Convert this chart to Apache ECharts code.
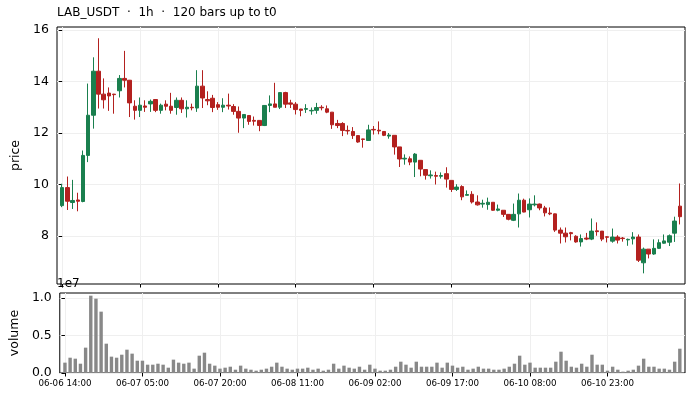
<!DOCTYPE html>
<html>
<head>
<meta charset="utf-8">
<script src="https://cdn.jsdelivr.net/npm/echarts@6/dist/echarts.min.js"></script>
<style>
  html, body { margin: 0; padding: 0; background: #fff; }
  #chart { width: 693px; height: 400px; }
</style>
</head>
<body>
<div id="chart"></div>
<script>
// hourly bars, index 0 = 06-06 14:00
var open = [
  9.18, 9.88, 9.30, 9.40, 9.34, 11.13, 12.69, 14.40, 13.51, 13.55,
  13.51, 13.64, 14.12, 14.05, 13.04, 12.88, 13.05, 13.13, 13.30, 12.88,
  13.12, 13.04, 12.99, 13.27, 12.94, 13.00, 12.97, 13.82, 13.30, 13.35,
  13.10, 13.00, 13.08, 13.03, 12.84, 12.58, 12.68, 12.49, 12.49, 12.29,
  13.07, 13.13, 13.00, 13.57, 13.17, 13.12, 12.93, 12.92, 12.86, 12.88,
  13.00, 12.94, 12.81, 12.37, 12.37, 12.10, 12.06, 11.90, 11.77, 11.71,
  12.14, 12.11, 12.06, 11.88, 11.91, 11.46, 10.99, 11.00, 10.87, 10.94,
  10.58, 10.34, 10.35, 10.32, 10.42, 10.16, 9.81, 9.92, 9.58, 9.62,
  9.32, 9.24, 9.22, 9.31, 9.00, 9.00, 8.84, 8.61, 8.86, 9.39,
  9.02, 9.21, 9.24, 9.09, 8.89, 8.86, 8.23, 8.11, 8.13, 7.99,
  7.77, 7.92, 7.88, 8.20, 8.19, 7.97, 7.80, 7.96, 7.92, 7.85,
  7.89, 7.96, 6.96, 7.49, 7.30, 7.52, 7.72, 7.76, 8.11, 9.16
];
var close = [
  9.88, 9.35, 9.38, 9.35, 11.13, 12.69, 14.40, 13.51, 13.29, 13.44,
  13.49, 14.12, 14.05, 13.17, 12.88, 13.08, 13.00, 13.23, 12.88, 13.08,
  13.04, 12.88, 13.27, 12.94, 13.00, 12.98, 13.82, 13.36, 13.25, 12.99,
  13.00, 13.08, 13.05, 12.84, 12.58, 12.72, 12.45, 12.46, 12.29, 13.07,
  13.13, 13.00, 13.57, 13.12, 13.12, 12.91, 12.88, 12.95, 12.88, 12.99,
  12.98, 12.81, 12.32, 12.29, 12.10, 12.08, 11.90, 11.65, 11.75, 12.12,
  12.12, 12.08, 11.91, 11.92, 11.46, 10.99, 11.02, 10.87, 11.18, 10.60,
  10.36, 10.37, 10.32, 10.35, 10.21, 9.81, 9.90, 9.52, 9.61, 9.32,
  9.21, 9.27, 9.31, 9.00, 9.05, 8.84, 8.65, 8.84, 9.39, 8.93,
  9.24, 9.24, 9.09, 8.90, 8.86, 8.23, 8.11, 7.97, 8.09, 7.77,
  7.90, 7.88, 8.19, 8.17, 7.88, 7.95, 7.96, 7.84, 7.90, 7.87,
  7.96, 7.06, 7.49, 7.30, 7.52, 7.74, 7.81, 8.01, 8.58, 8.75
];
var high = [
  10.03, 10.31, 10.18, 9.68, 11.32, 13.92, 14.94, 15.68, 14.12, 13.77,
  13.52, 14.25, 15.19, 14.06, 13.27, 13.38, 13.27, 13.30, 13.31, 13.14,
  13.27, 13.56, 13.38, 13.38, 13.27, 13.14, 14.44, 14.44, 13.62, 13.48,
  13.20, 13.35, 13.53, 13.12, 13.03, 12.72, 12.68, 12.64, 12.49, 13.07,
  13.46, 13.95, 13.57, 13.60, 13.29, 13.20, 12.94, 13.12, 12.99, 13.17,
  13.08, 13.07, 12.81, 12.51, 12.42, 12.29, 12.23, 11.90, 11.78, 12.32,
  12.27, 12.45, 12.06, 12.00, 11.91, 11.46, 11.17, 11.09, 11.22, 10.94,
  10.58, 10.55, 10.50, 10.47, 10.67, 10.16, 10.01, 9.97, 9.77, 9.74,
  9.58, 9.41, 9.49, 9.31, 9.22, 9.00, 8.84, 9.26, 9.65, 9.45,
  9.46, 9.58, 9.26, 9.17, 9.11, 8.87, 8.33, 8.33, 8.16, 8.03,
  8.06, 8.12, 8.68, 8.53, 8.19, 7.99, 8.29, 8.03, 7.96, 7.90,
  8.15, 8.06, 7.55, 7.49, 7.87, 7.87, 8.06, 8.06, 8.75, 10.04
];
var low = [
  9.12, 9.01, 9.05, 8.96, 9.31, 10.87, 12.17, 12.95, 12.95, 12.86,
  12.75, 13.38, 13.77, 12.62, 12.52, 12.62, 12.82, 12.82, 12.81, 12.75,
  12.88, 12.75, 12.71, 12.78, 12.60, 12.88, 12.82, 12.97, 13.08, 12.81,
  12.90, 12.81, 12.91, 12.71, 12.01, 12.19, 12.32, 12.29, 12.07, 12.27,
  12.81, 13.00, 12.93, 12.97, 12.97, 12.72, 12.65, 12.78, 12.71, 12.75,
  12.88, 12.77, 12.16, 12.19, 11.88, 11.94, 11.77, 11.62, 11.43, 11.71,
  11.94, 11.95, 11.88, 11.78, 11.16, 10.68, 10.77, 10.75, 10.29, 10.32,
  10.19, 10.23, 10.00, 10.23, 9.88, 9.71, 9.75, 9.39, 9.58, 9.26,
  9.18, 9.10, 9.02, 8.98, 8.96, 8.74, 8.61, 8.58, 8.33, 8.92,
  8.72, 9.15, 9.00, 8.76, 8.81, 8.16, 7.71, 7.75, 7.83, 7.74,
  7.59, 7.84, 7.84, 8.01, 7.80, 7.75, 7.74, 7.71, 7.78, 7.62,
  7.67, 6.99, 6.55, 7.13, 7.27, 7.50, 7.70, 7.61, 7.77, 8.45
];
var volume = [
  1.38e6, 2.04e6, 1.91e6, 1.24e6, 3.38e6, 10.31e6, 9.91e6, 8.18e6, 3.91e6, 2.18e6,
  2.04e6, 2.44e6, 3.11e6, 2.58e6, 1.64e6, 1.64e6, 1.11e6, 1.11e6, 1.24e6, 1.11e6,
  0.71e6, 1.78e6, 1.38e6, 1.24e6, 1.38e6, 0.58e6, 2.31e6, 2.71e6, 1.24e6, 0.98e6,
  0.58e6, 0.71e6, 0.84e6, 0.44e6, 0.98e6, 0.58e6, 0.44e6, 0.31e6, 0.44e6, 0.58e6,
  0.84e6, 1.38e6, 0.84e6, 0.58e6, 0.44e6, 0.58e6, 0.58e6, 0.71e6, 0.44e6, 0.58e6,
  0.31e6, 0.44e6, 1.24e6, 0.58e6, 0.98e6, 0.71e6, 0.58e6, 0.84e6, 0.44e6, 1.11e6,
  0.58e6, 0.31e6, 0.31e6, 0.44e6, 0.84e6, 1.51e6, 1.11e6, 0.71e6, 1.51e6, 0.84e6,
  0.84e6, 0.84e6, 1.38e6, 0.71e6, 1.38e6, 0.98e6, 0.71e6, 0.84e6, 0.44e6, 0.58e6,
  0.84e6, 0.58e6, 0.58e6, 0.44e6, 0.44e6, 0.58e6, 0.84e6, 1.24e6, 2.31e6, 1.11e6,
  1.38e6, 0.71e6, 0.71e6, 0.71e6, 0.71e6, 1.51e6, 2.84e6, 1.64e6, 0.84e6, 0.71e6,
  1.24e6, 0.84e6, 2.44e6, 1.11e6, 1.11e6, 0.31e6, 0.84e6, 0.44e6, 0.18e6, 0.31e6,
  0.44e6, 0.98e6, 1.91e6, 0.84e6, 0.84e6, 0.58e6, 0.58e6, 0.44e6, 1.51e6, 3.24e6
];
var tickIdx = [0, 15, 30, 45, 60, 75, 90, 105];
var tickLabels = ['06-06 14:00', '06-07 05:00', '06-07 20:00', '06-08 11:00',
                  '06-09 02:00', '06-09 17:00', '06-10 08:00', '06-10 23:00'];
var priceTicks = [8, 10, 12, 14, 16];
var volTicks = [0, 5e6, 1e7];

var UP = '#1a7f4e', DOWN = '#b3211f';
var FONT = 'DejaVu Sans';

var candles = [], vols = [];
for (var i = 0; i < open.length; i++) {
    candles.push([i, open[i], close[i], low[i], high[i]]);
    vols.push([i, volume[i]]);
}

var gridLine = { show: true, lineStyle: { color: '#efefef', width: 1 } };
var tickStyle = { show: true, length: 3.5, lineStyle: { color: '#000', width: 1 } };

var option = {
    animation: false,
    backgroundColor: '#fff',
    textStyle: { fontFamily: FONT },
    title: {
        text: 'LAB_USDT  \u00b7  1h  \u00b7  120 bars up to t0',
        left: 57, top: 7, padding: 0,
        textStyle: { fontSize: 12, fontWeight: 'normal', color: '#000', fontFamily: FONT }
    },
    graphic: [{
        type: 'text', left: 57, top: 278,
        style: { text: '1e7', fontSize: 12, fill: '#000', fontFamily: FONT }
    }],
    grid: [
        { left: 57, right: 8, top: 27, height: 257, show: true, borderColor: '#000', borderWidth: 1, backgroundColor: 'transparent' },
        { left: 57, right: 8, top: 293, height: 80, show: true, borderColor: '#000', borderWidth: 1, backgroundColor: 'transparent' }
    ],
    xAxis: [
        {
            type: 'value', gridIndex: 0, min: -1, max: 120,
            axisLine: { show: false },
            axisTick: Object.assign({ customValues: tickIdx }, tickStyle),
            axisLabel: { show: false, customValues: tickIdx },
            splitLine: gridLine
        },
        {
            type: 'value', gridIndex: 1, min: -1, max: 120,
            axisLine: { show: false },
            axisTick: Object.assign({ customValues: tickIdx }, tickStyle),
            axisLabel: {
                customValues: tickIdx, margin: 6, fontSize: 8.7, color: '#000', fontFamily: FONT,
                formatter: function (v) { return tickLabels[tickIdx.indexOf(v)] || ''; }
            },
            splitLine: gridLine
        }
    ],
    yAxis: [
        {
            type: 'value', gridIndex: 0, min: 6.136, max: 16.117,
            name: 'price', nameLocation: 'middle', nameGap: 27,
            nameTextStyle: { fontSize: 12.5, color: '#000', fontFamily: FONT },
            axisLine: { show: false },
            axisTick: Object.assign({ customValues: priceTicks }, tickStyle),
            axisLabel: { customValues: priceTicks, margin: 8, fontSize: 12.5, color: '#000', fontFamily: FONT },
            splitLine: gridLine
        },
        {
            type: 'value', gridIndex: 1, min: 0, max: 1.0667e7,
            name: 'volume', nameLocation: 'middle', nameGap: 33,
            nameTextStyle: { fontSize: 12.5, color: '#000', fontFamily: FONT },
            axisLine: { show: false },
            axisTick: Object.assign({ customValues: volTicks }, tickStyle),
            axisLabel: {
                customValues: volTicks, margin: 8, fontSize: 12.5, color: '#000', fontFamily: FONT,
                formatter: function (v) { return (v / 1e7).toFixed(1); }
            },
            splitLine: gridLine
        }
    ],
    series: [
        {
            type: 'candlestick', xAxisIndex: 0, yAxisIndex: 0,
            data: candles,
            encode: { x: 0, y: [1, 2, 3, 4] },
            barWidth: 4,
            itemStyle: { color: UP, color0: DOWN, borderColor: UP, borderColor0: DOWN, borderWidth: 1 }
        },
        {
            type: 'bar', xAxisIndex: 1, yAxisIndex: 1,
            data: vols,
            barWidth: 3.4,
            itemStyle: { color: '#888888' }
        }
    ]
};

var chart = echarts.init(document.getElementById('chart'));
chart.setOption(option);
</script>
</body>
</html>
